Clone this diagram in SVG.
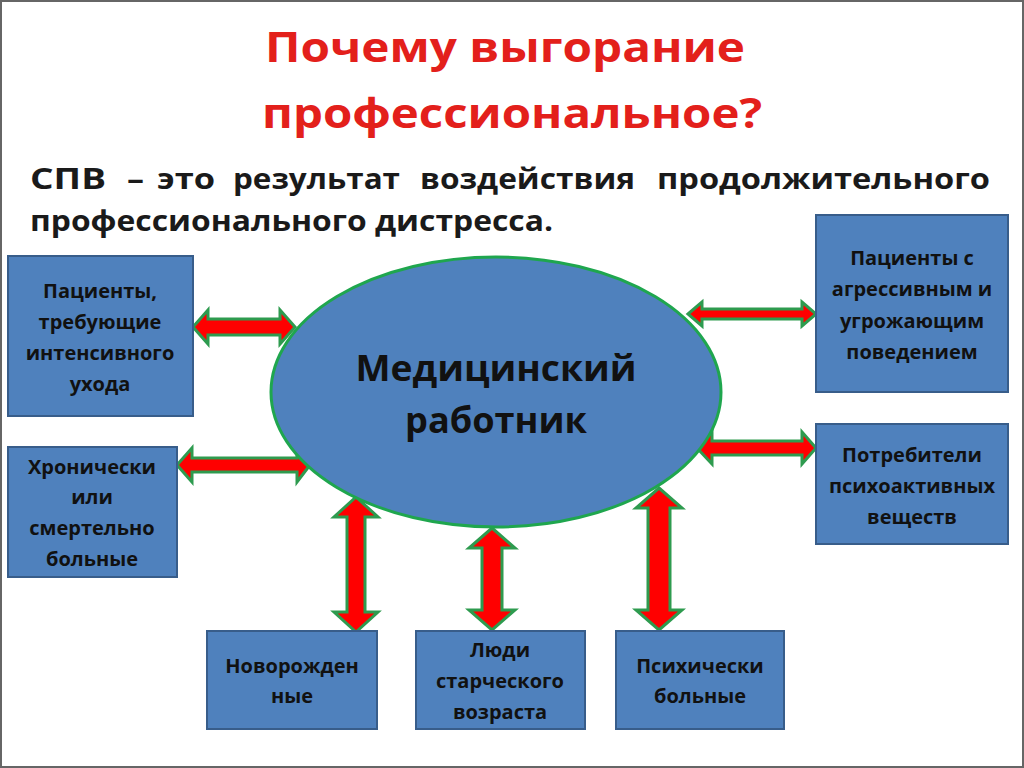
<svg xmlns="http://www.w3.org/2000/svg" width="1024" height="768" viewBox="0 0 1024 768">
<style>
.box{fill:#4f81bd;stroke:#385d8a;stroke-width:2}
.bt{font-family:"Open Sans","Noto Sans",sans-serif;font-weight:bold;font-size:20px;fill:#111;text-anchor:middle}
.arr{fill:#ff0000;stroke:#2e9b4f;stroke-width:3;stroke-linejoin:miter}
.title{font-family:"Open Sans","Noto Sans",sans-serif;font-weight:bold;font-size:42px;fill:#e3201b;text-anchor:middle}
.sub{font-family:"Open Sans","Noto Sans",sans-serif;font-weight:bold;font-size:29px;fill:#1a1a1a}
.ct{font-family:"Open Sans","Noto Sans",sans-serif;font-weight:bold;font-size:36px;fill:#111;text-anchor:middle}
</style>
<rect x="1" y="1" width="1022" height="766" fill="#fff" stroke="#666" stroke-width="2"/>
<g id="title">
<text class="title" x="505" y="62" textLength="480" lengthAdjust="spacingAndGlyphs">Почему выгорание</text>
<text class="title" x="512" y="128" textLength="500" lengthAdjust="spacingAndGlyphs">профессиональное?</text>
</g>
<g id="subtitle" class="sub">
<text x="30" y="189" textLength="76" lengthAdjust="spacingAndGlyphs">СПВ</text>
<text x="127" y="189" textLength="17" lengthAdjust="spacingAndGlyphs">–</text>
<text x="157" y="189" textLength="58" lengthAdjust="spacingAndGlyphs">это</text>
<text x="233" y="189" textLength="167" lengthAdjust="spacingAndGlyphs">результат</text>
<text x="420" y="189" textLength="215" lengthAdjust="spacingAndGlyphs">воздействия</text>
<text x="657" y="189" textLength="333" lengthAdjust="spacingAndGlyphs">продолжительного</text>
<text x="30" y="231" textLength="523" lengthAdjust="spacingAndGlyphs">профессионального дистресса.</text>
</g>
<g id="connectors">
<polygon class="arr" points="193,327 208,310 208,319 280,319 280,310 295,327 280,344 280,335 208,335 208,344"/>
<polygon class="arr" points="177,465 192,448 192,458 297,458 297,448 310,465 297,482 297,472 192,472 192,482"/>
<polygon class="arr" points="688,314 702,302 702,309 802,309 802,302 816,314 802,326 802,319 702,319 702,326"/>
<polygon class="arr" points="697,448 712,432 712,441 802,441 802,432 816,448 802,464 802,455 712,455 712,464"/>
<polygon class="arr" points="356,497 378,517 365,517 365,612 378,612 356,632 334,612 347,612 347,517 334,517"/>
<polygon class="arr" points="492,528 515,548 502,548 502,610 515,610 492,630 469,610 482,610 482,548 469,548"/>
<polygon class="arr" points="659,488 682,508 670,508 670,610 682,610 659,630 636,610 648,610 648,508 636,508"/>
</g>
<g id="center">
<ellipse cx="496" cy="392" rx="225" ry="135" fill="#4f81bd" stroke="#1fa64e" stroke-width="3"/>
<text class="ct" x="496" y="381" textLength="281" lengthAdjust="spacingAndGlyphs">Медицинский</text>
<text class="ct" x="496" y="433" textLength="182" lengthAdjust="spacingAndGlyphs">работник</text>
</g>
<g id="n1">
<rect class="box" x="8" y="256" width="185" height="160"/>
<text class="bt" x="100" y="298">Пациенты,</text>
<text class="bt" x="100" y="329">требующие</text>
<text class="bt" x="100" y="360">интенсивного</text>
<text class="bt" x="100" y="391">ухода</text>
</g>
<g id="n2">
<rect class="box" x="8" y="447" width="169" height="130"/>
<text class="bt" x="92" y="474">Хронически</text>
<text class="bt" x="92" y="504">или</text>
<text class="bt" x="92" y="535">смертельно</text>
<text class="bt" x="92" y="566">больные</text>
</g>
<g id="n3">
<rect class="box" x="207" y="631" width="170" height="98"/>
<text class="bt" x="292" y="673">Новорожден</text>
<text class="bt" x="292" y="703">ные</text>
</g>
<g id="n4">
<rect class="box" x="416" y="631" width="169" height="98"/>
<text class="bt" x="500" y="657">Люди</text>
<text class="bt" x="500" y="688">старческого</text>
<text class="bt" x="500" y="719">возраста</text>
</g>
<g id="n5">
<rect class="box" x="616" y="631" width="168" height="98"/>
<text class="bt" x="700" y="673">Психически</text>
<text class="bt" x="700" y="703">больные</text>
</g>
<g id="n6">
<rect class="box" x="816" y="215" width="192" height="177"/>
<text class="bt" x="912" y="265">Пациенты с</text>
<text class="bt" x="912" y="296">агрессивным и</text>
<text class="bt" x="912" y="328">угрожающим</text>
<text class="bt" x="912" y="359">поведением</text>
</g>
<g id="n7">
<rect class="box" x="816" y="424" width="192" height="120"/>
<text class="bt" x="912" y="462">Потребители</text>
<text class="bt" x="912" y="493">психоактивных</text>
<text class="bt" x="912" y="524">веществ</text>
</g>
</svg>
